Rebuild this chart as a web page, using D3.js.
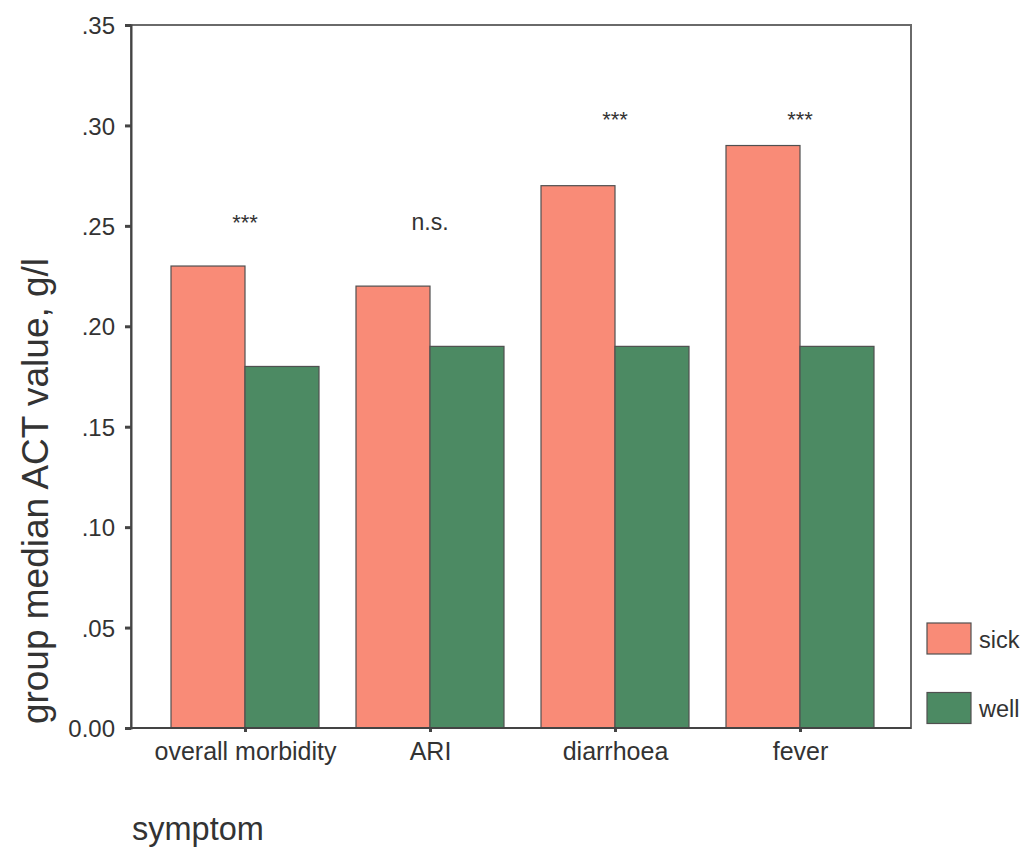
<!DOCTYPE html>
<html><head><meta charset="utf-8">
<script src="https://cdn.jsdelivr.net/npm/d3@7"></script>
<style>
html,body{margin:0;padding:0;background:#fff;}
svg text{font-family:"Liberation Sans",Arial,sans-serif;fill:#333;}
</style></head>
<body><svg id="c" width="1025" height="854"></svg>
<script>
const categories = ["overall morbidity", "ARI", "diarrhoea", "fever"];
const seriesNames = ["sick", "well"];
const sickValues = [0.23, 0.22, 0.27, 0.29];
const wellValues = [0.18, 0.19, 0.19, 0.19];
const annotations = ["***", "n.s.", "***", "***"];
const annotationY = [0.248, 0.248, 0.299, 0.299];
const yTicks = [0, 0.05, 0.10, 0.15, 0.20, 0.25, 0.30, 0.35];
const yTickLabels = ["0.00", ".05", ".10", ".15", ".20", ".25", ".30", ".35"];
const colors = {sick: "#f98b77", well: "#4c8a63"};

const svg = d3.select("#c");
const frame = {left: 131, right: 911, top: 25, bottom: 728};

const y = d3.scaleLinear().domain([0, 0.35]).range([frame.bottom, frame.top]);
const x0 = d3.scaleBand().domain(categories).range([152.5, 892.5]).paddingInner(0.2).paddingOuter(0.1);
const x1 = d3.scaleBand().domain(seriesNames).range([0, x0.bandwidth()]);

// frame
svg.append("rect").attr("x", frame.left).attr("y", frame.top)
  .attr("width", frame.right - frame.left).attr("height", frame.bottom - frame.top)
  .attr("fill", "none").attr("stroke", "#6a6a6a").attr("stroke-width", 2);

const data = categories.map((c, i) => ({cat: c, sick: sickValues[i], well: wellValues[i]}));

const g = svg.append("g");
data.forEach(d => {
  seriesNames.forEach(s => {
    g.append("rect")
      .attr("x", x0(d.cat) + x1(s))
      .attr("y", y(d[s]))
      .attr("width", x1.bandwidth())
      .attr("height", y(0) - y(d[s]))
      .attr("fill", colors[s])
      .attr("stroke", "#505050").attr("stroke-width", 1.2);
  });
});

// y axis
const yAxis = d3.axisLeft(y).tickValues(yTicks).tickFormat((d, i) => yTickLabels[i]).tickSize(6).tickPadding(10);
const ya = svg.append("g").attr("transform", `translate(${frame.left},0)`).call(yAxis);
ya.select(".domain").attr("stroke", "#444").attr("stroke-width", 2);
ya.selectAll(".tick line").attr("stroke", "#444").attr("stroke-width", 3);
ya.selectAll(".tick text").style("font-size", "24px").attr("fill", "#333").attr("dy", "0.36em")
  .style("font-family", "'Liberation Sans', Arial, sans-serif");

// x axis
const xCenters = d3.scalePoint().domain(categories).range([x0(categories[0]) + x0.bandwidth() / 2, x0(categories[3]) + x0.bandwidth() / 2]);
const xAxis = d3.axisBottom(xCenters).tickSize(4).tickPadding(10);
const xa = svg.append("g").attr("transform", `translate(0,${frame.bottom})`).call(xAxis);
xa.select(".domain").attr("d", `M${frame.left - 5},0H${frame.right}`).attr("stroke", "#444").attr("stroke-width", 2);
xa.selectAll(".tick line").attr("stroke", "#444").attr("stroke-width", 3);
xa.selectAll(".tick text").style("font-size", "25px").attr("fill", "#333")
  .style("font-family", "'Liberation Sans', Arial, sans-serif");

// annotations
categories.forEach((c, i) => {
  svg.append("text")
    .attr("x", xCenters(c))
    .attr("y", y(annotationY[i]))
    .attr("text-anchor", "middle")
    .style("font-size", annotations[i] === "n.s." ? "23px" : "22px")
    .text(annotations[i]);
});

// y label
svg.append("text")
  .attr("transform", "translate(48,491) rotate(-90)")
  .attr("text-anchor", "middle")
  .style("font-size", "37px")
  .text("group median ACT value, g/l");

// x label
svg.append("text").attr("x", 132).attr("y", 840).style("font-size", "32.5px").text("symptom");

// legend
const legY = d3.scalePoint().domain(seriesNames).range([638.5, 708]);
seriesNames.forEach(s => {
  svg.append("rect").attr("x", 927).attr("y", legY(s) - 15.5).attr("width", 44).attr("height", 31)
    .attr("fill", colors[s]).attr("stroke", "#505050").attr("stroke-width", 1.2);
  svg.append("text").attr("x", 979).attr("y", legY(s) + 9).style("font-size", "23.5px").text(s);
});
</script></body></html>
